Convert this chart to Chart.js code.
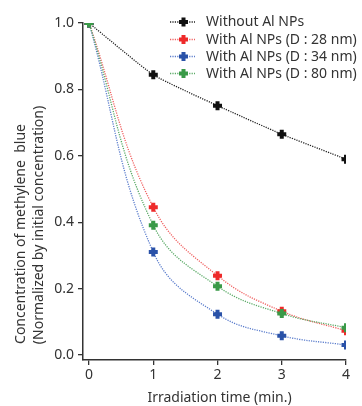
<!DOCTYPE html>
<html><head><meta charset="utf-8">
<script src="https://cdn.jsdelivr.net/npm/chart.js@4/dist/chart.umd.min.js"></script>
<style>html,body{margin:0;padding:0;background:#fff}#wrap{width:362px;height:406px}</style>
</head><body><div id="wrap"><canvas id="c" width="362" height="406"></canvas></div>
<script>
const times = [0, 1, 2, 3, 4];
const seriesNames = ["Without Al NPs", "With Al NPs (D : 28 nm)", "With Al NPs (D : 34 nm)", "With Al NPs (D : 80 nm)"];
const withoutNPs = [1.0, 0.844, 0.751, 0.665, 0.590];
const np28 = [1.0, 0.445, 0.239, 0.132, 0.073];
const np34 = [1.0, 0.310, 0.123, 0.058, 0.030];
const np80 = [1.0, 0.391, 0.207, 0.125, 0.082];
const xTicks = [0, 1, 2, 3, 4];
const yTicks = [0.0, 0.2, 0.4, 0.6, 0.8, 1.0];
const xTitle = "Irradiation time (min.)";
const yTitle = ["Concentration of methylene  blue", "(Normalized by initial concentration)"];

const FONT = "'Noto Sans'";
const TXT = "#333";
const lineColors = ["#222", "#f06060", "#5a7ccc", "#5aaa66"];
const markColors = ["#111", "#ee2a2a", "#2a52a8", "#3a9a48"];
const tensions = [0.15, 0.4, 0.4, 0.4];
const allData = [withoutNPs, np28, np34, np80];

const datasets = allData.map((d, i) => ({
  label: seriesNames[i],
  data: times.map((t, j) => ({x: t, y: d[j]})),
  borderColor: lineColors[i],
  backgroundColor: markColors[i],
  pointBorderColor: markColors[i],
  borderWidth: 1.3,
  borderDash: [1.2, 1.2],
  tension: tensions[i],
  pointStyle: 'cross',
  pointRadius: 4.5,
  pointBorderWidth: 4,
  pointHoverRadius: 4.5,
  order: 4 - i
}));

const textPlugin = {
  id: 'customText',
  afterDraw(chart) {
    const ctx = chart.ctx;
    ctx.save();
    // legend
    const x0 = 170, x1 = 195, tx = 206;
    const ys = [22, 39.5, 56.5, 73.5];
    seriesNames.forEach((name, i) => {
      const y = ys[i];
      ctx.strokeStyle = lineColors[i];
      ctx.lineWidth = 1.3;
      ctx.setLineDash([1.2, 1.2]);
      ctx.beginPath(); ctx.moveTo(x0, y); ctx.lineTo(x1, y); ctx.stroke();
      ctx.setLineDash([]);
      ctx.strokeStyle = markColors[i];
      ctx.lineWidth = 4;
      const cx = (x0 + x1) / 2 + 1, r = 4.5;
      ctx.beginPath(); ctx.moveTo(cx - r, y); ctx.lineTo(cx + r, y);
      ctx.moveTo(cx, y - r); ctx.lineTo(cx, y + r); ctx.stroke();
      ctx.fillStyle = TXT;
      ctx.font = "14px " + FONT;
      ctx.textBaseline = 'middle';
      ctx.textAlign = 'left';
      ctx.fillText(name, tx, y + 0.5);
    });
    // x title
    ctx.fillStyle = TXT;
    ctx.font = "14px " + FONT;
    ctx.textAlign = 'center';
    ctx.textBaseline = 'middle';
    ctx.fillText(xTitle, 219.5, 398);
    // y title
    const yCenters = [[21.5, 234], [39.5, 225]];
    yTitle.forEach((t, i) => {
      ctx.save();
      ctx.translate(yCenters[i][0], yCenters[i][1]);
      ctx.rotate(-Math.PI / 2);
      ctx.font = "14px " + FONT;
      ctx.textAlign = 'center';
      ctx.textBaseline = 'middle';
      ctx.fillText(t, 0, 0);
      ctx.restore();
    });
    ctx.restore();
  }
};

new Chart(document.getElementById('c'), {
  type: 'line',
  data: { datasets },
  options: {
    responsive: false,
    animation: false,
    events: [],
    layout: { padding: { top: 23, right: 16, left: 0, bottom: 0 } },
    plugins: { legend: { display: false }, tooltip: { enabled: false } },
    scales: {
      x: {
        type: 'linear', min: -0.094, max: 4,
        afterBuildTicks: s => { s.ticks = xTicks.map(v => ({value: v})); },
        afterFit: s => { s.height = 46; },
        grid: { drawOnChartArea: false, drawTicks: true, tickLength: 5, color: TXT, lineWidth: 1.3 },
        border: { color: TXT, width: 1.5 },
        ticks: { color: TXT, font: { family: FONT, size: 14 }, padding: 2, maxRotation: 0 }
      },
      y: {
        type: 'linear', min: -0.015, max: 1.0,
        afterBuildTicks: s => { s.ticks = yTicks.map(v => ({value: v})); },
        afterFit: s => { s.width = 83; },
        grid: { drawOnChartArea: false, drawTicks: true, tickLength: 5, color: TXT, lineWidth: 1.3 },
        border: { color: TXT, width: 1.5 },
        ticks: { color: TXT, font: { family: FONT, size: 14 }, padding: 4, callback: v => v.toFixed(1) }
      }
    }
  },
  plugins: [textPlugin]
});
</script></body></html>
